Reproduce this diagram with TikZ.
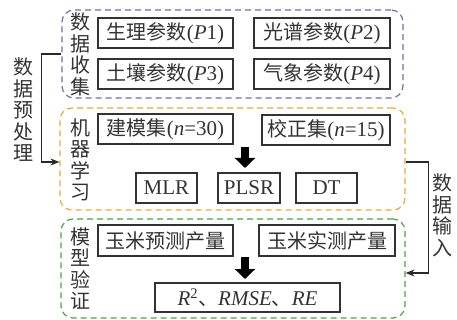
\documentclass[tikz,border=0pt]{standalone}
\usepackage{fontspec}
\setmainfont{Liberation Serif}
\newfontfamily\cjk{Noto Sans CJK SC}
\newcommand\cj[1]{{\cjk\fontsize{20}{21.5}\selectfont #1}}
\usetikzlibrary{arrows.meta}
\definecolor{txt}{HTML}{333333}
\definecolor{bl}{HTML}{6E6FA8}
\definecolor{org}{HTML}{E9A93A}
\definecolor{grn}{HTML}{4BA34B}
\begin{document}
\begin{tikzpicture}[x=1pt,y=-1pt,
 every node/.style={text=txt, font=\fontsize{21}{21.5}\selectfont, inner sep=0pt},
 box/.style={draw=txt, line width=1.1pt, minimum height=30pt},
 grp/.style={draw=#1, dash pattern=on 6pt off 4pt, line width=1.2pt, rounded corners=12pt},
 vtext/.style={align=center, font=\cjk\fontsize{20}{21.5}\selectfont},
 bigarrow/.style={line width=8pt, draw=black, -{Triangle[width=20pt,length=10pt]}},
 link/.style={line width=1.1pt, draw=txt!80!black, -{Stealth[length=9pt,width=7pt]}}]
\useasboundingbox (0,0) rectangle (457,320);
% groups
\node[grp=bl, minimum width=341pt, minimum height=88pt] (g1) at (232.5,54) {};
\node[grp=org, minimum width=345pt, minimum height=102pt] (g2) at (232.5,159) {};
\node[grp=grn, minimum width=344pt, minimum height=99pt] (g3) at (233,268.5) {};
% group labels
\node[vtext] (t1) at (80,54.5) {数\\据\\收\\集};
\node[vtext] (t2) at (80,160) {机\\器\\学\\习};
\node[vtext] (t3) at (80,268.5) {模\\型\\验\\证};
\node[vtext] (t4) at (23,110) {数\\据\\预\\处\\理};
\node[vtext] (t5) at (442,215.5) {数\\据\\输\\入};
% data collection
\node[box, minimum width=135pt] (p1) at (165.5,33) {\cj{生理参数}(\textit{P}1)};
\node[box, minimum width=136pt] (p2) at (322,33) {\cj{光谱参数}(\textit{P}2)};
\node[box, minimum width=135pt] (p3) at (165.5,74) {\cj{土壤参数}(\textit{P}3)};
\node[box, minimum width=136pt] (p4) at (322,74) {\cj{气象参数}(\textit{P}4)};
% machine learning
\node[box, minimum width=135pt] (m1) at (165.5,129) {\cj{建模集}(\textit{n}=30)};
\node[box, minimum width=128pt] (m2) at (326,130) {\cj{校正集}(\textit{n}=15)};
\node[box, minimum width=61pt] (mlr) at (166.5,188) {MLR};
\node[box, minimum width=62pt] (plsr) at (249,188) {PLSR};
\node[box, minimum width=61pt] (dt) at (326.5,188) {DT};
% validation
\node[box, minimum width=135pt, minimum height=31pt] (v1) at (165.5,240.5) {\cj{玉米预测产量}};
\node[box, minimum width=136pt, minimum height=31pt] (v2) at (327,240.5) {\cj{玉米实测产量}};
\node[box, minimum width=185pt, minimum height=29pt] (r2) at (247.5,297.5) {\textit{R}\textsuperscript{2}\cj{、}\textit{RMSE}\cj{、}\textit{RE}};
% big arrows
\coordinate (a1s) at (245,147);
\coordinate (a1e) at (245,168);
\coordinate (a2s) at (245,257);
\coordinate (a2e) at (245,279);
\draw[bigarrow] (a1s) -- (a1e);
\draw[bigarrow] (a2s) -- (a2e);
% brackets
\draw[link] (g1.west) -- ++(-20,0) |- ([yshift=-3pt]g2.west);
\draw[link] ([yshift=-3pt]g2.east) -- ++(23,0) |- ([yshift=-4.5pt]g3.east);
\end{tikzpicture}
\end{document}
